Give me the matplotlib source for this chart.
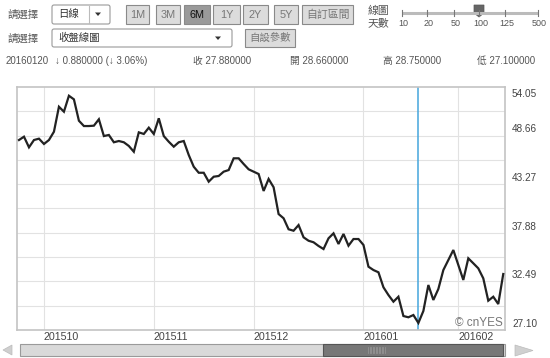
import numpy as np
import matplotlib
matplotlib.use("Agg")
import matplotlib.pyplot as plt
from matplotlib.patches import Rectangle, Polygon, FancyBboxPatch
from matplotlib.transforms import offset_copy

plt.rcParams['font.family'] = ['Liberation Sans', 'Noto Sans CJK TC', 'DejaVu Sans']

# ---------------- data ----------------
closes = [
    48.17, 48.54, 47.36, 48.17, 48.32, 47.73, 48.17, 49.09, 51.86, 51.31,
    53.08, 52.68, 50.31, 49.72, 49.72, 49.76, 50.47, 48.61, 48.73, 47.92,
    48.06, 47.92, 47.51, 46.87, 49.02, 48.84, 49.54, 48.84, 50.58, 48.61,
    47.98, 47.43, 47.92, 48.06, 46.51, 45.21, 44.54, 44.54, 43.55, 44.10,
    44.18, 44.66, 44.84, 46.14, 46.14, 45.51, 44.92, 44.66, 44.40, 42.52,
    43.85, 42.93,
    39.96, 39.49, 38.27, 38.11, 38.74, 37.38, 37.00, 36.83, 36.42, 36.08,
    37.27, 37.82, 36.64, 37.75, 36.45, 37.19, 37.19, 36.53, 34.12, 33.75,
    33.50, 31.84, 30.98, 30.24, 30.79, 28.65, 28.51, 28.76, 27.88, 29.21,
    32.09, 30.43, 31.65, 33.75, 34.86, 35.97, 34.31, 32.65, 35.05, 34.50,
    33.94, 32.83, 30.35, 30.79, 29.98, 33.31,
]
month_idx = [5, 27, 47, 69, 88]
month_labels = ['201510', '201511', '201512', '201601', '201602']
y_labels = ['27.10', '32.49', '37.88', '43.27', '48.66', '54.05']
y_min, y_max = 27.10, 54.05
selected_idx = 80

header_info = ['20160120', '↓ 0.880000 (↓ 3.06%)', '收 27.880000',
               '開 28.660000', '高 28.750000', '低 27.100000']
range_buttons = ['1M', '3M', '6M', '1Y', '2Y', '5Y', '自訂區間']
slider_labels = ['10', '20', '50', '100', '125', '500']

# ---------------- figure ----------------
W, H = 550, 358
fig = plt.figure(figsize=(W / 100, H / 100), dpi=100)
fig.patch.set_facecolor('white')

ui = fig.add_axes([0, 0, 1, 1])
ui.set_xlim(0, W)
ui.set_ylim(H, 0)
ui.axis('off')

txt = '#555555'

# Row 1
ui.text(7, 15, '請選擇', fontsize=7.5, color=txt, va='center', ha='left')
ui.add_patch(FancyBboxPatch((52, 5), 58, 19, boxstyle='round,pad=0,rounding_size=2',
                            fc='white', ec='#9a9a9a', lw=0.8))
ui.plot([89, 89], [6, 23], color='#bbbbbb', lw=0.8)
ui.text(58, 14.5, '日線', fontsize=7.5, color='#333333', va='center', ha='left')
ui.add_patch(Polygon([[95, 12.5], [101, 12.5], [98, 16]], closed=True, fc='#333333', ec='none'))

btn_x = [(126, 149), (156, 180), (184, 210), (213, 240), (243, 268), (274, 298), (302, 353)]
for (x0, x1), lab in zip(btn_x, range_buttons):
    pressed = lab == '6M'
    ui.add_patch(Rectangle((x0, 5), x1 - x0, 19,
                           fc='#9a9a9a' if pressed else '#dcdcdc',
                           ec='#8a8a8a', lw=0.8))
    ui.text((x0 + x1) / 2, 14.5, lab, fontsize=7.8,
            color='#111111' if pressed else '#777777', ha='center', va='center')

ui.text(368, 10.5, '線圖', fontsize=7.8, color=txt, va='center', ha='left')
ui.text(368, 23, '天數', fontsize=7.8, color=txt, va='center', ha='left')
tick_x = [402, 427, 454, 479, 505, 538]
ui.plot([402, 538], [13, 13], color='#bbbbbb', lw=2.2, solid_capstyle='butt')
for tx, tl in zip(tick_x, slider_labels):
    ui.plot([tx, tx], [10, 16], color='#777777', lw=0.8)
    ui.text(tx + 1.5, 23.5, tl, fontsize=6.5, color=txt, ha='center', va='center')
ui.add_patch(Polygon([[474, 5], [484, 5], [484, 13], [479, 17], [474, 13]],
                     closed=True, fc='#666666', ec='#555555', lw=0.5))

# Row 2
ui.text(7, 39, '請選擇', fontsize=7.5, color=txt, va='center', ha='left')
ui.add_patch(FancyBboxPatch((52, 29), 180, 18, boxstyle='round,pad=0,rounding_size=2',
                            fc='white', ec='#9a9a9a', lw=0.8))
ui.text(58, 38, '收盤線圖', fontsize=7.5, color='#333333', va='center', ha='left')
ui.add_patch(Polygon([[215, 36.5], [221, 36.5], [218, 40]], closed=True, fc='#333333', ec='none'))
ui.add_patch(Rectangle((245, 29), 50, 18, fc='#dcdcdc', ec='#8a8a8a', lw=0.8))
ui.text(270, 38, '自設參數', fontsize=7.5, color='#777777', ha='center', va='center')

# Row 3
hx = [6, 55, 193, 290, 383, 477]
for x, s in zip(hx, header_info):
    ui.text(x, 61, s, fontsize=7.0, color=txt, va='center', ha='left')

# Scrollbar
ui.add_patch(Polygon([[3, 350], [12, 345], [12, 355]], closed=True, fc='#cfcfcf', ec='#bbbbbb', lw=0.5))
ui.add_patch(Rectangle((20, 344), 485, 12, fc='#d9d9d9', ec='#9a9a9a', lw=0.8))
ui.add_patch(Rectangle((323, 344), 180, 12, fc='#777777', ec='#555555', lw=0.8))
for gx in np.arange(368, 386, 1.5):
    ui.plot([gx, gx], [347, 353], color='#999999', lw=0.5)
ui.add_patch(Polygon([[515, 345], [533, 350.5], [515, 356]], closed=True, fc='#d0d0d0', ec='#bbbbbb', lw=0.5))

# ---------------- chart ----------------
L, R, T, B = 17, 505, 87, 330
ax = fig.add_axes([L / W, (H - B) / H, (R - L) / W, (B - T) / H])
ax.set_facecolor('white')
x = np.arange(len(closes))
ax.set_xlim(-0.4, len(closes) - 1 + 0.35)
ax.set_ylim(y_min, y_max)

grid_vals = np.linspace(y_min, y_max, 11)
for gv in grid_vals[1:-1]:
    ax.axhline(gv, color='#e2e2e2', lw=0.8, zorder=0)
for mi in month_idx:
    ax.axvline(mi, color='#e2e2e2', lw=0.8, zorder=0)

ax.plot(x, closes, color='#222222', lw=1.6, zorder=3, solid_joinstyle='miter')
ax.axvline(selected_idx, color='#45a6dd', lw=1.1, zorder=2)

for sp in ax.spines.values():
    sp.set_color('#c4c4c4')
    sp.set_linewidth(1.2)
ax.set_yticks([])
ax.set_xticks(month_idx, month_labels)
ax.tick_params(axis='x', length=0, pad=1.5, labelsize=7.7, labelcolor='#444444')
for lbl in ax.get_xticklabels():
    lbl.set_ha('left')

label_vals = grid_vals[0::2]
for i, (v, s) in enumerate(zip(label_vals, y_labels)):
    dy = -5.0 if i == len(label_vals) - 1 else 4.5
    tr = offset_copy(ax.get_yaxis_transform(), fig=fig, x=5, y=dy, units='points')
    ax.text(1.0, v, s, transform=tr, fontsize=7.2, color='#444444', ha='left', va='center')

ax.text(0.995, 0.03, '© cnYES', transform=ax.transAxes, fontsize=8.5, color='#777777',
        ha='right', va='center')

fig.savefig('out.png', dpi=100, facecolor='white')
